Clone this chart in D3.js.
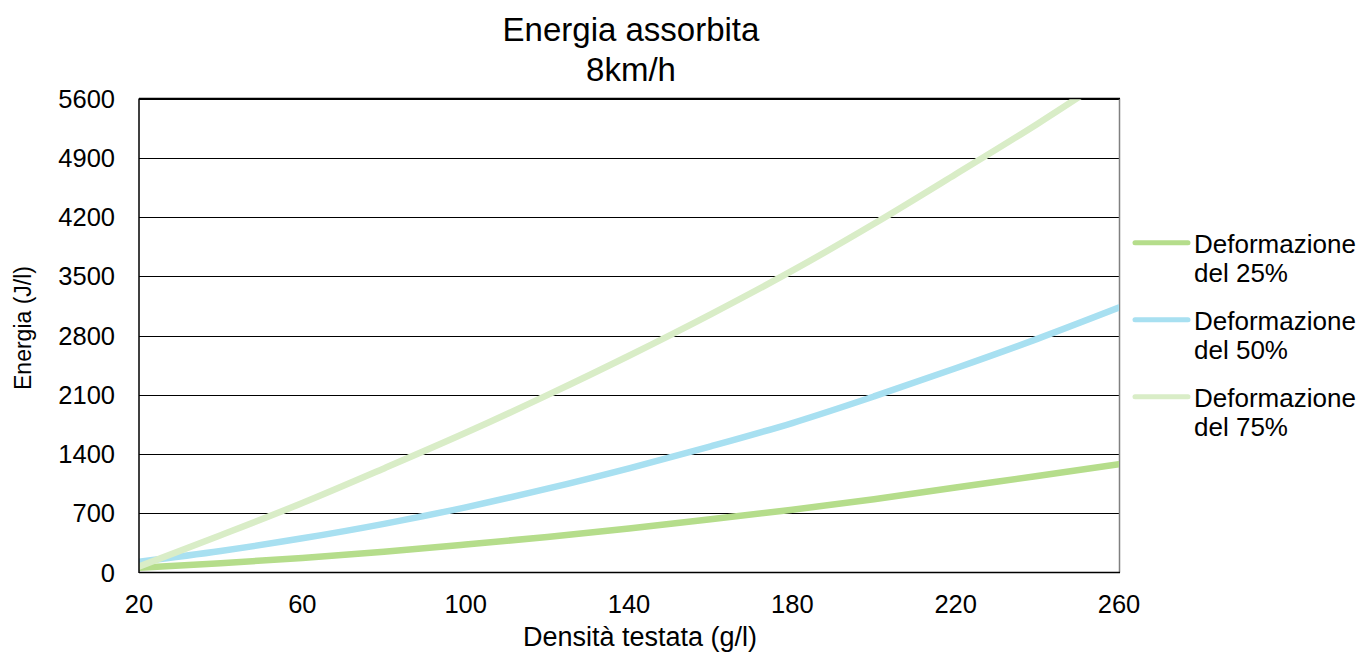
<!DOCTYPE html>
<html>
<head>
<meta charset="utf-8">
<script src="https://cdn.jsdelivr.net/npm/d3@7"></script>
<style>
  html, body { margin: 0; padding: 0; background: #fff; }
  svg { display: block; font-family: "Liberation Sans", Arial, sans-serif; }
</style>
</head>
<body>
<svg id="chart" width="1363" height="653"></svg>
<script>
// ---- data ----
const density = [20, 40, 60, 80, 100, 120, 140, 160, 180, 200, 220, 240, 260];
const def25 = [57, 110, 172, 245, 330, 420, 520, 628, 742, 865, 1005, 1140, 1280];
const def50 = [128, 255, 404, 575, 770, 990, 1231, 1490, 1766, 2080, 2413, 2760, 3130];
const def75 = [70, 440, 821, 1230, 1650, 2095, 2561, 3050, 3566, 4120, 4705, 5300, 5930];
const seriesNames = ["Deformazione del 25%", "Deformazione del 50%", "Deformazione del 75%"];
const seriesColors = ["#b5dd8b", "#a8e0f1", "#d9edc7"];
const xTicks = [20, 60, 100, 140, 180, 220, 260];
const yTicks = [0, 700, 1400, 2100, 2800, 3500, 4200, 4900, 5600];
const titleLines = ["Energia assorbita", "8km/h"];
const xTitle = "Densità testata (g/l)";
const yTitle = "Energia (J/l)";

const series = [def25, def50, def75];

const svg = d3.select("#chart");
const L = 139, R = 1119, T = 98.5, B = 572.5;

const x = d3.scaleLinear().domain([20, 260]).range([L, R]);
const y = d3.scaleLinear().domain([0, 5600]).range([B, T]);

// gridlines
svg.append("g").selectAll("line").data(yTicks.filter(d => d > 0)).join("line")
  .attr("x1", L).attr("x2", R)
  .attr("y1", d => Math.round(y(d)) + 0.5).attr("y2", d => Math.round(y(d)) + 0.5)
  .attr("stroke", "#000").attr("stroke-width", 1).attr("shape-rendering", "crispEdges");

// right border (grey)
svg.append("line").attr("x1", R + 0.5).attr("x2", R + 0.5).attr("y1", T).attr("y2", B)
  .attr("stroke", "#808080").attr("stroke-width", 1.5);

// clip
svg.append("clipPath").attr("id", "plotclip").append("rect")
  .attr("x", L).attr("y", T).attr("width", R - L).attr("height", B - T);

// lines
const line = d3.line().x((d, i) => x(density[i])).y(d => y(d)).curve(d3.curveMonotoneX);
svg.append("g").attr("clip-path", "url(#plotclip)")
  .selectAll("path").data(series).join("path")
  .attr("d", d => line(d))
  .attr("fill", "none")
  .attr("stroke", (d, i) => seriesColors[i])
  .attr("stroke-width", 6.5)
  .attr("stroke-linecap", "round");

// axes lines (left, bottom, top)
svg.append("line").attr("x1", L).attr("x2", L).attr("y1", T).attr("y2", B + 0.5)
  .attr("stroke", "#000").attr("stroke-width", 1.5);
svg.append("line").attr("x1", L).attr("x2", R + 1).attr("y1", B).attr("y2", B)
  .attr("stroke", "#000").attr("stroke-width", 1.5);
svg.append("line").attr("x1", L).attr("x2", R + 1).attr("y1", T).attr("y2", T)
  .attr("stroke", "#000").attr("stroke-width", 1.5);

// y tick labels
svg.append("g").selectAll("text").data(yTicks).join("text")
  .attr("x", 115).attr("y", d => y(d)).attr("dy", "0.36em")
  .attr("text-anchor", "end").attr("font-size", 25.5).attr("fill", "#000")
  .text(d => d);

// x tick labels
svg.append("g").selectAll("text").data(xTicks).join("text")
  .attr("x", d => x(d)).attr("y", 613)
  .attr("text-anchor", "middle").attr("font-size", 25.5).attr("fill", "#000")
  .text(d => d);

// title
svg.append("g").selectAll("text").data(titleLines).join("text")
  .attr("x", 631).attr("y", (d, i) => 41 + i * 39.5)
  .attr("text-anchor", "middle").attr("font-size", 33).attr("fill", "#000")
  .text(d => d);

// axis titles
svg.append("text").attr("x", 640).attr("y", 646)
  .attr("text-anchor", "middle").attr("font-size", 27).attr("fill", "#000")
  .text(xTitle);
svg.append("text").attr("transform", "translate(31,328) rotate(-90)")
  .attr("text-anchor", "middle").attr("font-size", 23).attr("fill", "#000")
  .text(yTitle);

// legend
const lg = svg.append("g").selectAll("g").data(seriesNames).join("g")
  .attr("transform", (d, i) => `translate(0,${253.3 + i * 77})`);
lg.append("line").attr("x1", 1135).attr("x2", 1188).attr("y1", -10.5).attr("y2", -10.5)
  .attr("stroke", (d, i) => seriesColors[i]).attr("stroke-width", 5).attr("stroke-linecap", "round");
lg.append("text").attr("x", 1194).attr("y", 0).attr("font-size", 26).attr("fill", "#000")
  .selectAll("tspan").data(d => { const p = d.split(" "); return [p[0], p.slice(1).join(" ")]; })
  .join("tspan").attr("x", 1194).attr("dy", (d, i) => i === 0 ? 0 : 29).text(d => d);
</script>
</body>
</html>
